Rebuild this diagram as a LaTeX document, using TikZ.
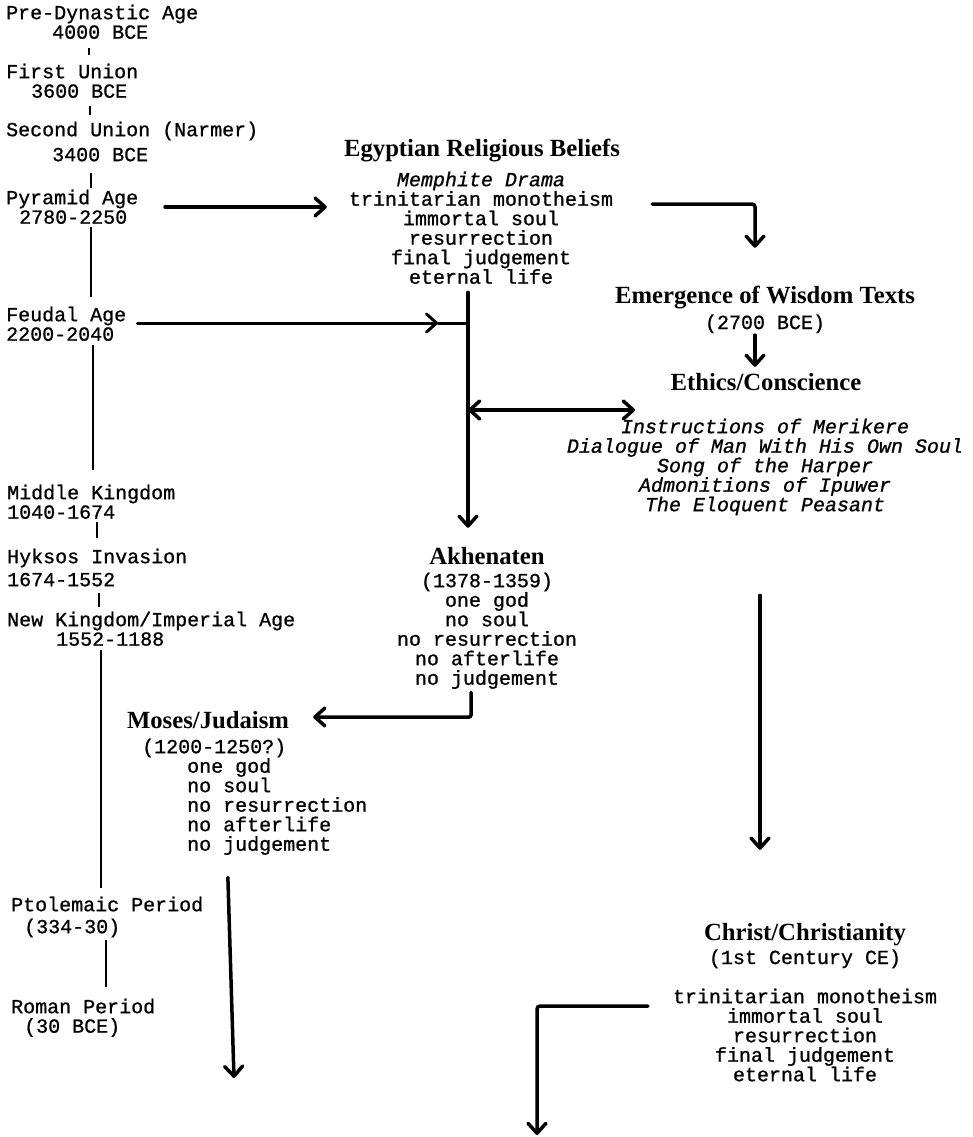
\documentclass[tikz,border=0pt]{standalone}
\usepackage{fontspec}
\setmainfont{Liberation Serif}
\newfontfamily\monof[FakeBold=0.9]{Liberation Mono}
\usetikzlibrary{arrows.meta}
\newcommand{\fs}{\rule{0pt}{17pt}}
\newcommand{\fe}{\rule[-5pt]{0pt}{5pt}}
\newcommand{\ind}[1]{\hspace*{#1pt}}
\lineskiplimit=-30pt
\begin{document}
\begin{tikzpicture}[x=1pt,y=1pt,
  mono/.style={font=\monof\fontsize{20}{19.5}\selectfont, inner sep=0pt},
  monoit/.style={font=\monof\itshape\fontsize{20}{19.5}\selectfont, inner sep=0pt},
  era/.style={mono, anchor=north west, align=left},
  blk/.style={mono, anchor=north, align=center},
  head/.style={font=\bfseries\fontsize{24.7}{26}\selectfont, inner sep=0pt, anchor=base, text height=17pt, text depth=5pt},
  sub/.style={mono, anchor=base, text height=17pt, text depth=5pt},
  tl/.style={line width=2.2pt},
  ln3/.style={line width=3pt, line cap=round},
  arr/.style={line width=3.5pt, line cap=round, -{Straight Barb[length=10pt,width=18pt,round]}},
  arr3/.style={line width=3pt, line cap=round, -{Straight Barb[length=10pt,width=18pt,round]}},
  darr/.style={line width=3.5pt, {Straight Barb[length=10pt,width=18pt,round]}-{Straight Barb[length=10pt,width=18pt,round]}}
]
\useasboundingbox (0,0) rectangle (973,-1137);

% ---- timeline (left column)
\node[era] (pda) at (6,-2) {\fs Pre-Dynastic Age\\ \ind{46}4000 BCE\fe};
\node[era] (fu) at (6,-61) {\fs First Union\\ \ind{25}3600 BCE\fe};
\node[era] (su) at (6,-119) {\fs Second Union (Narmer)\\[5.5pt] \ind{46}3400 BCE\fe};
\node[era] (py) at (6,-187) {\fs Pyramid Age\\ \ind{13}2780-2250\fe};
\node[era] (fe) at (6,-304) {\fs Feudal Age\\2200-2040\fe};
\node[era] (mk) at (7,-482) {\fs Middle Kingdom\\1040-1674\fe};
\node[era] (hy) at (7,-546) {\fs Hyksos Invasion\\[3.5pt]1674-1552\fe};
\node[era] (nk) at (7,-609) {\fs New Kingdom/Imperial Age\\ \ind{49}1552-1188\fe};
\node[era] (pt) at (11,-894) {\fs Ptolemaic Period\\[2.5pt] \ind{13}(334-30)\fe};
\node[era] (ro) at (11,-996) {\fs Roman Period\\ \ind{13}(30 BCE)\fe};

\draw[tl, shorten <=4.5pt, shorten >=6pt] (pda.south -| 89,0) -- (fu.north -| 89,0);
\draw[tl, shorten <=3.5pt, shorten >=4pt] (fu.south -| 90,0) -- (su.north -| 90,0);
\draw[tl, shorten <=7pt, shorten >=-1pt] (su.south -| 91,0) -- (py.north -| 91,0);
\draw[tl, shorten <=-1.5pt, shorten >=7pt] (py.south -| 91,0) -- (fe.north -| 91,0);
\draw[tl, shorten <=-0.5pt, shorten >=12pt] (fe.south -| 93,0) -- (mk.north -| 93,0);
\draw[tl, shorten <=-1.5pt, shorten >=8pt] (mk.south -| 97,0) -- (hy.north -| 97,0);
\draw[tl, shorten <=2pt, shorten >=2pt] (hy.south -| 99,0) -- (nk.north -| 99,0);
\draw[tl, shorten <=-0.5pt, shorten >=6pt] (nk.south -| 101,0) -- (pt.north -| 101,0);
\draw[tl, shorten <=2pt, shorten >=9pt] (pt.south -| 106,0) -- (ro.north -| 106,0);

% ---- Egyptian religious beliefs
\node[head] (eh) at (482,-156) {Egyptian Religious Beliefs};
\node[blk] (egl) at (481,-169) {\fs\textit{Memphite Drama}\\trinitarian monotheism\\immortal soul\\resurrection\\final judgement\\eternal life\fe};

% ---- wisdom texts / ethics
\node[head] (wh) at (765,-303) {Emergence of Wisdom Texts};
\node[sub] (wd) at (765,-329) {(2700 BCE)};
\node[head] (eth) at (766,-390) {Ethics/Conscience};
\node[monoit, anchor=north, align=center] (etl) at (765,-416) {\fs Instructions of Merikere\\Dialogue of Man With His Own Soul\\Song of the Harper\\Admonitions of Ipuwer\\The Eloquent Peasant\fe};

% ---- Akhenaten
\node[head] (akh) at (487,-564) {Akhenaten};
\node[blk] (akl) at (487,-570) {\fs(1378-1359)\\one god\\no soul\\no resurrection\\no afterlife\\no judgement\fe};

% ---- Moses
\node[head] (mh) at (208,-728) {Moses/Judaism};
\node[era] (ml) at (142,-736) {\fs(1200-1250?)\\ \ind{45}one god\\ \ind{45}no soul\\ \ind{45}no resurrection\\ \ind{45}no afterlife\\ \ind{45}no judgement\fe};

% ---- Christ
\node[head] (ch) at (805,-940) {Christ/Christianity};
\node[sub] (cd) at (805,-964) {(1st Century CE)};
\node[blk] (cl) at (805,-986) {\fs trinitarian monotheism\\immortal soul\\resurrection\\final judgement\\eternal life\fe};

% ---- connectors
\coordinate (pa) at (165,-207);
\draw[arr, shorten >=22pt] (pa) -- (pa -| egl.west);

\coordinate (fa) at (438,-323);
\coordinate (fj) at (468,-323);
\draw[arr3, shorten <=11pt] (fe.east |- fa) -- (fa);
\draw[ln3] (fa) -- (fj);

\draw[arr, shorten <=3.5pt, shorten >=19pt] (fj |- egl.south) -- (fj |- akh.north);

\coordinate (dj) at (468,-410);
\coordinate (dr) at (635,-410);
\draw[darr] (dj) -- (dr);

\coordinate (ew) at (652,-204);
\draw[arr, rounded corners=3pt, shorten >=38pt] (ew) -| ([xshift=-10pt]wh.north);

\draw[arr, shorten <=1pt, shorten >=6pt] ([xshift=-10pt]wd.south) -- ([xshift=-11pt]eth.north);

\draw[arr, rounded corners=2pt, shorten <=2.5pt] ([xshift=-16pt]akl.south) |- ([xshift=24pt,yshift=5pt]mh.east);

\draw[arr, shorten <=79pt, shorten >=73pt] ([xshift=-5pt]etl.south) -- ([xshift=-45pt]ch.north);

\coordinate (me) at (234,-1078);
\draw[arr, shorten <=21.5pt] ([xshift=-27.5pt]ml.south) -- (me);

\coordinate (cs) at (648,-1006);
\coordinate (ce) at (537,-1135);
\draw[arr, rounded corners=3pt] (cs) -| (ce);
\end{tikzpicture}
\end{document}
